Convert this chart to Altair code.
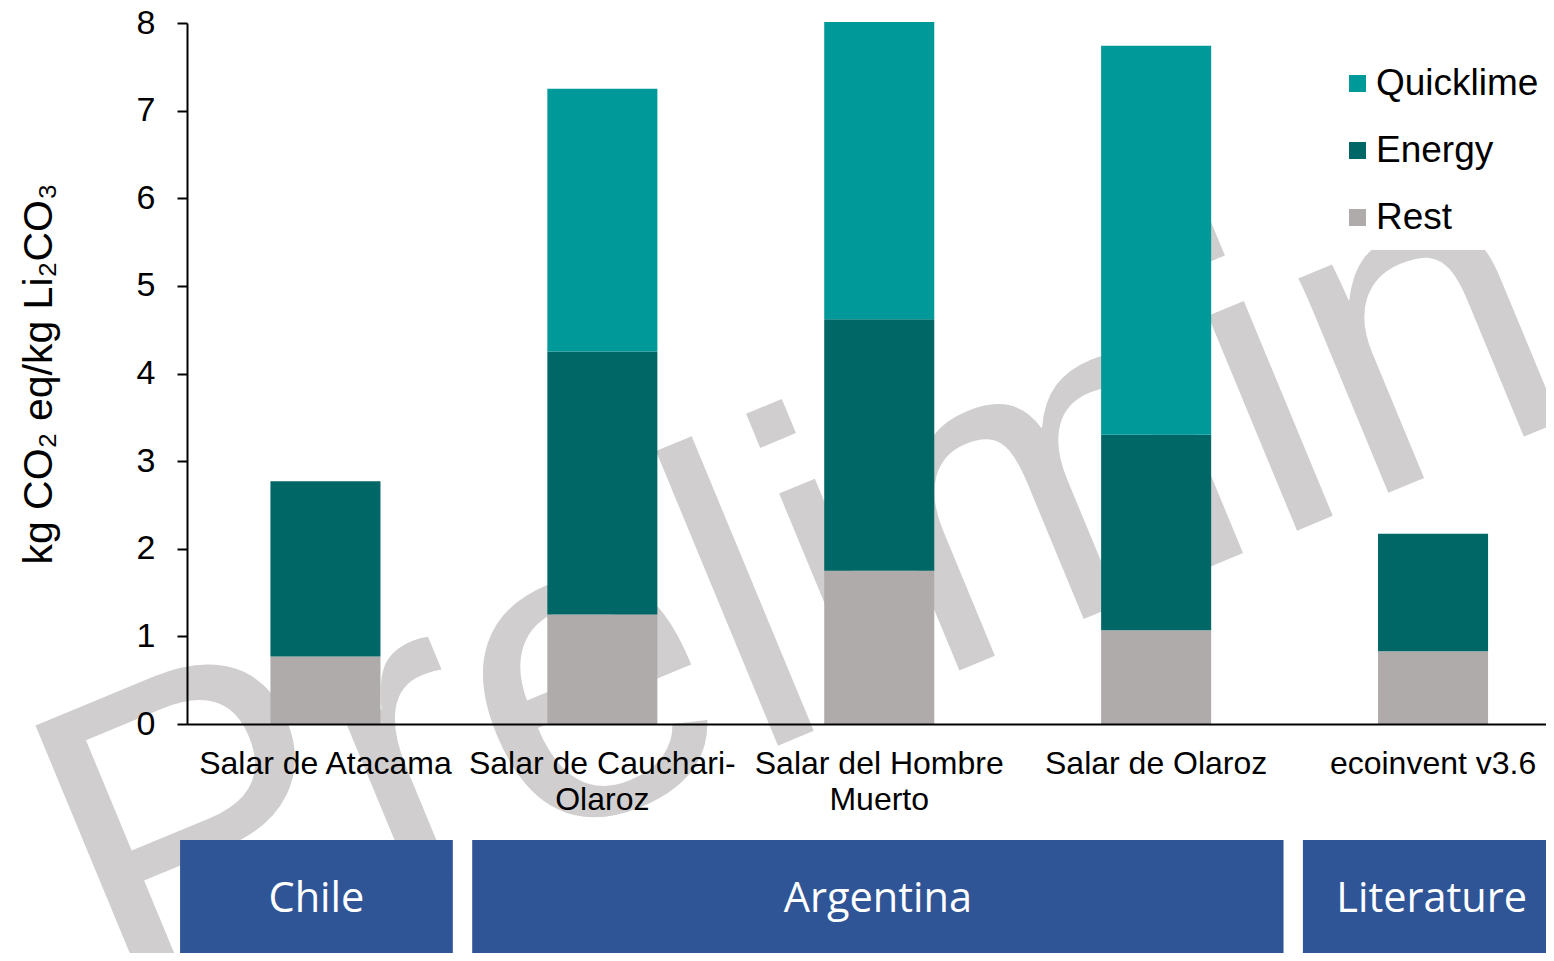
import altair as alt
import pandas as pd

# ---------------- data ----------------
categories = [
    "Salar de Atacama",
    "Salar de Cauchari-Olaroz",
    "Salar del Hombre Muerto",
    "Salar de Olaroz",
    "ecoinvent v3.6",
]
groups = ["Chile", "Argentina", "Argentina", "Argentina", "Literature"]
components = ["Quicklime", "Energy", "Rest"]
rest = [0.77, 1.25, 1.75, 1.07, 0.83]
energy = [2.00, 3.00, 2.87, 2.23, 1.34]
quicklime = [0.00, 3.00, 3.39, 4.44, 0.00]
y_ticks = [0, 1, 2, 3, 4, 5, 6, 7, 8]
y_title = "kg CO\u2082 eq/kg Li\u2082CO\u2083"
watermark_text = "Preliminary"

# ---------------- styles ----------------
colors = ["#009999", "#006766", "#AFABAB"]
box_color = "#2F5597"
wm_color = "#D0CECE"
F = "Liberation Sans"

series = {"Rest": rest, "Energy": energy, "Quicklime": quicklime}
stack_order = {"Rest": 0, "Energy": 1, "Quicklime": 2}
rows = []
for comp, vals in series.items():
    for cat, v in zip(categories, vals):
        rows.append({"category": cat, "component": comp, "value": v, "ord": stack_order[comp]})
df = pd.DataFrame(rows)

grp_rows = []
for g in dict.fromkeys(groups):
    idx = [i for i, gg in enumerate(groups) if gg == g]
    lo, hi = min(idx), max(idx) + 1
    left = lo + 0.03 if lo > 0 else -0.025
    right = hi - 0.04
    grp_rows.append({"group": g, "x0": left, "x1": right, "xm": (left + right) / 2})
gdf = pd.DataFrame(grp_rows)

W = 1359
H = 701
FULL = 1384.5

label_expr = (
    "datum.label == 'Salar de Cauchari-Olaroz' ? ['Salar de Cauchari-', 'Olaroz'] : "
    "datum.label == 'Salar del Hombre Muerto' ? ['Salar del Hombre', 'Muerto'] : datum.label"
)

watermark = alt.Chart(pd.DataFrame({"t": [watermark_text]})).mark_text(
    font=F, fontSize=440, angle=337.5, align="left", baseline="alphabetic", color=wm_color
).encode(x=alt.value(-69), y=alt.value(996), text="t:N")

# white background of the legend box (hides the watermark behind the legend)
legend_bg = alt.Chart(pd.DataFrame({"k": [0]})).mark_rect(color="white").encode(
    x=alt.value(1153), x2=alt.value(1380), y=alt.value(25), y2=alt.value(227)
)

bars = alt.Chart(df).mark_bar().encode(
    x=alt.X(
        "category:N",
        sort=categories,
        scale=alt.Scale(domain=categories, range=[0, FULL], paddingInner=0.6026, paddingOuter=0.3013),
        axis=alt.Axis(
            title=None, labelAngle=0, labelFontSize=32, labelFont=F, labelColor="black",
            labelPadding=24, labelLineHeight=36, labelLimit=400, labelOverlap=False,
            ticks=False, domainColor="black", domainWidth=2, grid=False, zindex=1,
            labelExpr=label_expr,
        ),
    ),
    y=alt.Y(
        "value:Q",
        stack="zero",
        scale=alt.Scale(domain=[0, 8], nice=False),
        axis=alt.Axis(
            values=y_ticks, format="d", title=y_title, titleFontSize=41, titleFont=F,
            titleFontWeight="normal", titleColor="black", titleX=-148, titleY=H / 2,
            titleAngle=270, titleAlign="center", titleBaseline="middle",
            labelFontSize=34, labelFont=F, labelColor="black", labelPadding=22,
            tickSize=10, tickWidth=2, tickColor="black", domainColor="black",
            domainWidth=2, grid=False, zindex=1,
        ),
    ),
    color=alt.Color(
        "component:N",
        scale=alt.Scale(domain=components, range=colors),
        legend=alt.Legend(
            orient="none", legendX=1152, legendY=42, title=None, symbolType="square",
            symbolSize=289, symbolStrokeWidth=0, symbolOpacity=1, labelFontSize=37,
            labelFont=F, labelColor="black", labelOffset=0, labelLimit=400,
            rowPadding=29, padding=0, direction="vertical",
        ),
    ),
    order=alt.Order("ord:Q", sort="ascending"),
)

xq = alt.Scale(domain=[0, 5], range=[0, FULL], nice=False, zero=False)

boxes = alt.Chart(gdf).mark_rect(color=box_color).encode(
    x=alt.X("x0:Q", scale=xq, axis=None),
    x2="x1:Q",
    y=alt.value(817),
    y2=alt.value(936),
)

box_labels = alt.Chart(gdf).mark_text(
    font="Open Sans", fontSize=41.5, color="white", align="center", baseline="middle"
).encode(
    x=alt.X("xm:Q", scale=xq, axis=None),
    y=alt.value(876.5),
    text="group:N",
)

chart = (
    alt.layer(watermark, legend_bg, bars, boxes, box_labels)
    .resolve_scale(x="independent")
    .properties(
        width=W,
        height=H,
        autosize=alt.AutoSizeParams(type="none"),
        padding={"left": 179, "top": 15, "right": 0, "bottom": 229},
        background="white",
    )
    .configure_view(stroke=None)
)

chart.save("out.html", embed_options={"renderer": "svg", "actions": False})
